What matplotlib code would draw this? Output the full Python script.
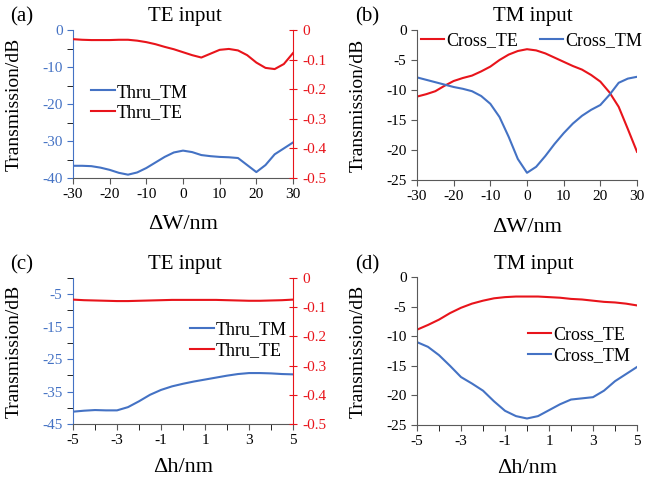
import matplotlib
matplotlib.use("Agg")
import matplotlib.pyplot as plt
from matplotlib.ticker import MultipleLocator

plt.rcParams['font.family'] = ['Liberation Serif', 'DejaVu Serif']
plt.rcParams['axes.unicode_minus'] = False

BLUE = '#4472C4'
RED = '#E8141B'
GRAY = '#595959'

# (a) TE input, width deviation
dw = [-30, -27.5, -25, -22.5, -20, -17.5, -15, -12.5, -10, -7.5, -5, -2.5, 0,
      2.5, 5, 7.5, 10, 12.5, 15, 17.5, 20, 22.5, 25, 27.5, 30]
a_thru_tm = [-36.7, -36.7, -36.8, -37.2, -37.8, -38.6, -39.1, -38.5, -37.3, -35.8, -34.3, -33.1, -32.6,
             -33.0, -33.8, -34.1, -34.3, -34.4, -34.6, -36.5, -38.4, -36.5, -33.6, -32.0, -30.4]
a_thru_te = [-0.031, -0.033, -0.034, -0.034, -0.034, -0.033, -0.033, -0.036, -0.041, -0.048, -0.057, -0.065, -0.075,
             -0.085, -0.093, -0.080, -0.067, -0.064, -0.069, -0.085, -0.110, -0.128, -0.132, -0.115, -0.078]

# (b) TM input, width deviation
b_cross_te = [-11.1, -10.7, -10.2, -9.3, -8.5, -8.0, -7.6, -6.9, -6.1, -5.0, -4.1, -3.5, -3.2,
              -3.4, -3.9, -4.6, -5.3, -6.0, -6.6, -7.5, -8.6, -10.4, -12.8, -16.5, -20.3]
b_cross_tm = [-7.9, -8.3, -8.7, -9.1, -9.5, -9.8, -10.2, -11.0, -12.3, -14.5, -17.8, -21.5, -23.8,
              -22.8, -21.0, -19.0, -17.2, -15.6, -14.3, -13.3, -12.5, -10.8, -8.8, -8.1, -7.8]

# (c) TE input, height deviation
dh = [-5, -4.5, -4, -3.5, -3, -2.5, -2, -1.5, -1, -0.5, 0,
      0.5, 1, 1.5, 2, 2.5, 3, 3.5, 4, 4.5, 5]
c_thru_tm = [-41.2, -40.9, -40.7, -40.8, -40.8, -39.8, -38.0, -36.0, -34.5, -33.4, -32.6,
             -31.9, -31.3, -30.7, -30.1, -29.6, -29.3, -29.3, -29.4, -29.6, -29.7]
c_thru_te = [-0.074, -0.076, -0.077, -0.078, -0.079, -0.079, -0.078, -0.077, -0.076, -0.075, -0.075,
             -0.075, -0.075, -0.075, -0.076, -0.077, -0.078, -0.078, -0.077, -0.076, -0.074]

# (d) TM input, height deviation
d_cross_te = [-8.9, -8.1, -7.2, -6.1, -5.2, -4.5, -4.0, -3.6, -3.4, -3.3, -3.3,
              -3.3, -3.4, -3.5, -3.7, -3.8, -4.0, -4.2, -4.3, -4.5, -4.8]
d_cross_tm = [-11.0, -11.8, -13.2, -15.0, -16.9, -18.0, -19.2, -21.0, -22.6, -23.5, -23.9,
              -23.5, -22.5, -21.5, -20.7, -20.5, -20.3, -19.2, -17.6, -16.4, -15.2]

W, H = 656, 479
fig = plt.figure(figsize=(W / 100, H / 100), dpi=100)


def box(l, t, r, b):
    return [l / W, 1 - b / H, (r - l) / W, (b - t) / H]


def style(ax, left_color, right_spine=False):
    ax.spines['top'].set_visible(False)
    ax.spines['right'].set_visible(right_spine)
    ax.spines['bottom'].set_color(GRAY)
    ax.spines['left'].set_color(left_color)
    ax.tick_params(axis='x', colors=GRAY, labelcolor='black', labelsize=11, direction='out', length=4)
    ax.tick_params(axis='y', colors=left_color, labelsize=11, direction='out', length=4)
    ax.tick_params(which='minor', length=4)


def twin_style(ax2):
    for s in ['top', 'left', 'bottom']:
        ax2.spines[s].set_visible(False)
    ax2.spines['right'].set_color(RED)
    ax2.tick_params(axis='y', colors=RED, labelsize=11, direction='inout', length=6)
    ax2.set_ylim(-0.5, 0)
    ax2.yaxis.set_major_locator(MultipleLocator(0.1))
    ax2.yaxis.set_major_formatter(plt.FuncFormatter(lambda v, p: '0' if abs(v) < 1e-9 else '%.1f' % v))


def labels(ax, letter, title, xlab, tx, ty, lx):
    fig.text(lx / W, 1 - ty / H, letter, fontsize=15, ha='left', va='center')
    fig.text(tx / W, 1 - ty / H, title, fontsize=15, ha='center', va='center')
    ax.set_xlabel(xlab, fontsize=16)
    ax.set_ylabel('Transmission/dB', fontsize=14)
    ax.yaxis.set_label_coords(-0.23, 0.5)
    ax.xaxis.set_label_coords(0.5, -0.25)


# (a)
ax = fig.add_axes(box(73, 30, 293, 178))
style(ax, BLUE, right_spine=False)
l1, = ax.plot(dw, a_thru_tm, color=BLUE, lw=1.5, label='Thru_TM')
ax.set_xlim(-30, 30)
ax.set_ylim(-40, 0)
ax.xaxis.set_major_locator(MultipleLocator(10))
ax.yaxis.set_major_locator(MultipleLocator(10))
ax.yaxis.set_minor_locator(MultipleLocator(5))
ax2 = ax.twinx()
twin_style(ax2)
l2, = ax2.plot(dw, a_thru_te, color=RED, lw=1.5, label='Thru_TE')
ax2.legend([l1, l2], ['Thru_TM', 'Thru_TE'], loc='center left', bbox_to_anchor=(0.05, 0.51),
           frameon=False, fontsize=13, handlelength=1.3, handletextpad=0.1, labelspacing=0.2,
           borderaxespad=0)
labels(ax, '(a)', 'TE input', 'ΔW/nm', 185, 17, 10)

# (b)
ax = fig.add_axes(box(417, 30, 637, 180))
style(ax, GRAY)
ax.plot(dw, b_cross_te, color=RED, lw=1.5, label='Cross_TE')
ax.plot(dw, b_cross_tm, color=BLUE, lw=1.5, label='Cross_TM')
ax.set_xlim(-30, 30)
ax.set_ylim(-25, 0)
ax.xaxis.set_major_locator(MultipleLocator(10))
ax.yaxis.set_major_locator(MultipleLocator(5))
ax.tick_params(axis='y', labelcolor='black')
ax.legend(loc='center', bbox_to_anchor=(0.52, 0.93), ncol=2, frameon=False, fontsize=13,
          handlelength=1.3, handletextpad=0.1, columnspacing=1.2, borderaxespad=0)
labels(ax, '(b)', 'TM input', 'ΔW/nm', 533, 17, 355)

# (c)
ax = fig.add_axes(box(73, 278, 293, 424))
style(ax, BLUE)
l1, = ax.plot(dh, c_thru_tm, color=BLUE, lw=1.5)
ax.set_xlim(-5, 5)
ax.set_ylim(-45, 0)
ax.set_xticks([-5, -3, -1, 1, 3, 5])
ax.xaxis.set_minor_locator(MultipleLocator(1))
ax.set_yticks([-45, -35, -25, -15, -5])
ax.yaxis.set_minor_locator(MultipleLocator(5))
ax2 = ax.twinx()
twin_style(ax2)
l2, = ax2.plot(dh, c_thru_te, color=RED, lw=1.5)
ax2.legend([l1, l2], ['Thru_TM', 'Thru_TE'], loc='center left', bbox_to_anchor=(0.5, 0.575),
           frameon=False, fontsize=13, handlelength=1.3, handletextpad=0.1, labelspacing=0.2,
           borderaxespad=0)
labels(ax, '(c)', 'TE input', 'Δh/nm', 185, 265, 10)
ax.xaxis.set_label_coords(0.5, -0.23)

# (d)
ax = fig.add_axes(box(417, 277, 637, 425))
style(ax, GRAY)
ax.plot(dh, d_cross_te, color=RED, lw=1.5, label='Cross_TE')
ax.plot(dh, d_cross_tm, color=BLUE, lw=1.5, label='Cross_TM')
ax.set_xlim(-5, 5)
ax.set_ylim(-25, 0)
ax.set_xticks([-5, -3, -1, 1, 3, 5])
ax.xaxis.set_minor_locator(MultipleLocator(1))
ax.yaxis.set_major_locator(MultipleLocator(5))
ax.tick_params(axis='y', labelcolor='black')
ax.legend(loc='center left', bbox_to_anchor=(0.47, 0.54), frameon=False, fontsize=13,
          handlelength=1.3, handletextpad=0.1, labelspacing=0.2, borderaxespad=0)
labels(ax, '(d)', 'TM input', 'Δh/nm', 534, 265, 355)
ax.xaxis.set_label_coords(0.5, -0.23)

fig.savefig('out.png', dpi=100)
